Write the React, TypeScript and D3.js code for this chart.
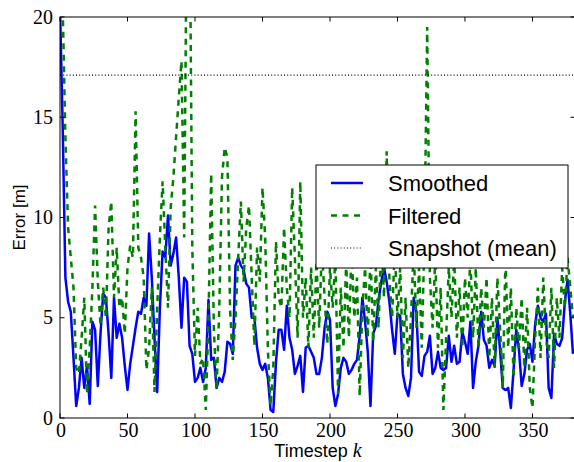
import React from 'react';
import * as d3 from 'd3';

// timestep spacing of the sampled values
const STEP = 2;

const smoothed = [
  20.5, 14.5, 7.0, 5.8, 5.3, 3.0, 0.6, 1.5, 3.0, 1.5, 2.6, 0.7, 4.8, 4.4, 1.6, 4.2, 6.2, 6.0, 4.2, 2.0,
  6.0, 4.0, 4.7, 4.0, 2.6, 1.4, 2.7, 3.6, 4.5, 5.3, 5.2, 6.0, 5.6, 9.2, 7.0, 4.0, 1.3, 5.5, 8.3, 8.0,
  10.1, 7.6, 8.2, 9.0, 7.0, 4.5, 7.0, 6.8, 3.6, 3.2, 1.8, 2.0, 2.5, 1.8, 2.5, 5.9, 2.9, 3.0, 1.5, 2.0,
  1.8, 2.3, 3.8, 3.7, 3.2, 7.6, 8.0, 7.6, 7.4, 6.7, 6.5, 5.0, 5.0, 3.5, 2.7, 2.4, 2.7, 2.0, 0.4, 0.3,
  2.8, 4.4, 4.4, 3.4, 5.6, 4.0, 3.4, 2.2, 2.6, 3.1, 1.3, 3.5, 3.6, 3.3, 3.0, 2.2, 2.2, 3.0, 4.5, 5.3,
  4.9, 1.5, 0.6, 1.2, 2.5, 3.0, 2.8, 2.2, 2.4, 2.7, 2.9, 4.1, 6.0, 4.8, 3.3, 0.6, 4.2, 4.6, 5.9, 6.8,
  7.5, 6.8, 5.8, 4.4, 3.2, 5.2, 5.1, 2.2, 1.5, 1.1, 2.0, 6.0, 5.3, 2.3, 2.1, 3.1, 3.3, 4.1, 2.2, 2.5,
  3.3, 2.5, 2.4, 2.5, 4.1, 2.8, 3.6, 2.7, 2.8, 4.3, 3.8, 3.2, 4.8, 1.5, 2.8, 3.6, 5.3, 3.9, 3.6, 2.5,
  2.9, 2.6, 5.0, 3.4, 1.5, 1.4, 1.5, 0.5, 2.4, 4.4, 3.4, 1.6, 2.2, 3.4, 3.7, 2.8, 4.7, 5.6, 5.0, 4.8,
  5.2, 1.5, 1.0, 4.2, 3.7, 3.6, 4.0, 5.8, 6.9, 5.2, 3.2,
];

const filtered = [
  25.0, 20.5, 14.0, 9.5, 8.0, 6.5, 2.5, 2.2, 4.0, 6.0, 1.2, 3.5, 6.5, 10.6, 6.8, 4.6, 6.5, 5.0, 9.5, 10.8,
  6.0, 8.5, 5.5, 6.0, 4.2, 7.5, 8.6, 8.0, 15.3, 8.5, 8.0, 7.0, 2.4, 3.5, 6.5, 1.3, 5.5, 9.0, 11.8, 8.5,
  5.5, 10.5, 12.0, 14.0, 16.0, 17.8, 9.0, 26.0, 26.0, 8.5, 3.1, 5.5, 2.7, 3.0, 0.4, 5.0, 12.2, 4.4, 1.4, 5.5,
  12.0, 13.5, 13.0, 5.4, 2.9, 5.0, 8.0, 10.8, 6.8, 9.5, 10.6, 7.0, 3.6, 8.5, 6.8, 11.5, 9.0, 3.4, 0.6, 2.5,
  8.8, 6.0, 5.5, 9.5, 6.5, 5.0, 11.5, 8.0, 4.0, 11.8, 5.0, 7.0, 3.5, 7.5, 4.0, 7.8, 4.5, 8.5, 6.0, 3.7,
  7.5, 5.5, 8.0, 1.2, 6.5, 3.5, 7.8, 4.0, 8.5, 5.0, 7.0, 1.1, 5.5, 7.5, 4.0, 8.2, 3.8, 7.5, 4.5, 9.0,
  6.0, 13.3, 7.0, 5.0, 8.5, 5.0, 7.5, 3.0, 6.0, 2.5, 5.0, 8.5, 4.5, 7.5, 3.5, 9.0, 19.5, 7.0, 4.5, 8.0,
  3.5, 6.5, 0.4, 4.0, 7.5, 5.0, 8.0, 4.0, 6.5, 3.5, 7.0, 5.0, 8.0, 4.0, 7.5, 3.5, 6.5, 4.5, 7.0, 3.0,
  6.0, 2.5, 7.0, 4.5, 1.5, 8.0, 3.5, 6.5, 2.0, 5.5, 3.5, 6.0, 2.5, 5.5, 1.5, 0.5, 4.0, 6.5, 3.0, 7.0,
  4.0, 3.0, 6.5, 2.5, 6.0, 4.0, 7.5, 5.5, 8.0, 6.5, 5.0,
];

const snapshotMean = 17.1;
const xTicks = [0, 50, 100, 150, 200, 250, 300, 350];
const yTicks = [0, 5, 10, 15, 20];
const legendItems = ['Smoothed', 'Filtered', 'Snapshot (mean)'];

const W = 574;
const H = 462;
const margin = { left: 60, top: 17, right: 575, bottom: 418 };

export default function App() {
  const x = d3.scaleLinear().domain([0, 381.5]).range([margin.left, margin.right]);
  const y = d3.scaleLinear().domain([0, 20]).range([margin.bottom, margin.top]);

  const line = d3
    .line<number>()
    .x((d, i) => x(i * STEP))
    .y(d => y(d));

  const serif = '"Liberation Serif", "DejaVu Serif", serif';
  const sans = '"Liberation Sans", Arial, sans-serif';

  const legendX = 316;
  const legendY = 165;

  return (
    <svg
      width={W}
      height={H}
      style={{ position: 'absolute', left: 0, top: 0, background: '#fff' }}
    >
      <defs>
        <clipPath id="plot-clip">
          <rect
            x={margin.left}
            y={margin.top}
            width={margin.right - margin.left}
            height={margin.bottom - margin.top}
          />
        </clipPath>
      </defs>

      <g clipPath="url(#plot-clip)">
        <path
          d={line(smoothed) || ''}
          fill="none"
          stroke="#0000ff"
          strokeWidth={2.5}
          strokeLinejoin="round"
        />
        <path
          d={line(filtered) || ''}
          fill="none"
          stroke="#008000"
          strokeWidth={2.5}
          strokeDasharray="6,5.5"
        />
        <line
          x1={margin.left}
          x2={margin.right}
          y1={y(snapshotMean)}
          y2={y(snapshotMean)}
          stroke="#000"
          strokeWidth={1.2}
          strokeDasharray="1,2.2"
        />
      </g>

      {/* frame */}
      <rect
        x={margin.left}
        y={margin.top}
        width={margin.right - margin.left}
        height={margin.bottom - margin.top}
        fill="none"
        stroke="#000"
        strokeWidth={1}
      />

      {/* x ticks, inward top and bottom */}
      {xTicks.map(t => (
        <g key={'x' + t}>
          <line x1={x(t)} x2={x(t)} y1={margin.bottom} y2={margin.bottom - 4.5} stroke="#000" />
          <line x1={x(t)} x2={x(t)} y1={margin.top} y2={margin.top + 4.5} stroke="#000" />
          <text
            x={x(t) + 1}
            y={436.5}
            textAnchor="middle"
            fontFamily={serif}
            fontSize={20}
            fill="#000"
          >
            {t}
          </text>
        </g>
      ))}

      {/* y ticks, inward left and right */}
      {yTicks.map(t => (
        <g key={'y' + t}>
          <line x1={margin.left} x2={margin.left + 4.5} y1={y(t)} y2={y(t)} stroke="#000" />
          <line x1={margin.right} x2={margin.right - 4.5} y1={y(t)} y2={y(t)} stroke="#000" />
          <text
            x={53}
            y={y(t) + 6.5}
            textAnchor="end"
            fontFamily={serif}
            fontSize={20}
            fill="#000"
          >
            {t}
          </text>
        </g>
      ))}

      {/* axis labels */}
      <text x={318} y={457} textAnchor="middle" fontFamily={sans} fontSize={18} fill="#000">
        Timestep{' '}
        <tspan fontFamily={serif} fontStyle="italic" fontSize={20}>
          k
        </tspan>
      </text>
      <text
        transform={`translate(25, ${(margin.top + margin.bottom) / 2}) rotate(-90)`}
        textAnchor="middle"
        fontFamily={sans}
        fontSize={17}
        fill="#000"
      >
        Error [m]
      </text>

      {/* legend */}
      <g transform={`translate(${legendX}, ${legendY})`}>
        <rect x={0} y={0} width={252} height={103} fill="#fff" stroke="#000" strokeWidth={1} />
        {legendItems.map((name, i) => {
          const ly = 18 + i * 32.5;
          return (
            <g key={name}>
              {i === 0 && (
                <line x1={15} x2={47} y1={ly} y2={ly} stroke="#0000ff" strokeWidth={2.5} />
              )}
              {i === 1 && (
                <line
                  x1={15}
                  x2={47}
                  y1={ly}
                  y2={ly}
                  stroke="#008000"
                  strokeWidth={2.5}
                  strokeDasharray="6,5.5"
                />
              )}
              {i === 2 && (
                <line
                  x1={15}
                  x2={47}
                  y1={ly}
                  y2={ly}
                  stroke="#000"
                  strokeWidth={1.2}
                  strokeDasharray="1,2.2"
                />
              )}
              <text x={72} y={ly + 8} fontFamily={sans} fontSize={22} fill="#000">
                {name}
              </text>
            </g>
          );
        })}
      </g>
    </svg>
  );
}
